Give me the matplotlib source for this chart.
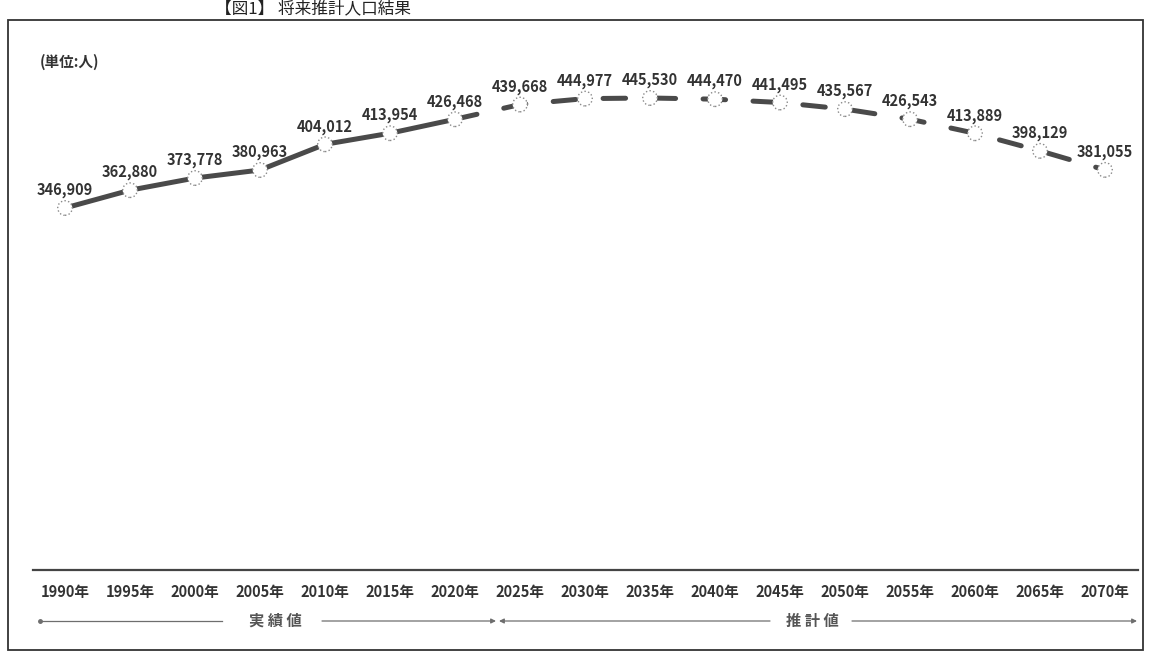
import matplotlib
matplotlib.use("Agg")
import matplotlib.pyplot as plt
from matplotlib.patches import Rectangle
from matplotlib.lines import Line2D

plt.rcParams['font.family'] = ['Noto Sans CJK JP', 'DejaVu Sans']

years = [1990, 1995, 2000, 2005, 2010, 2015, 2020, 2025, 2030, 2035,
         2040, 2045, 2050, 2055, 2060, 2065, 2070]
population = [346909, 362880, 373778, 380963, 404012, 413954, 426468,
              439668, 444977, 445530, 444470, 441495, 435567, 426543,
              413889, 398129, 381055]
tick_labels = [f"{y}年" for y in years]
last_actual = 6  # index of 2020 (last actual value)

W, H = 1151, 656
fig = plt.figure(figsize=(W / 100, H / 100), dpi=100)
fig.patch.set_facecolor('white')

def fx(px):
    return px / W

def fy(py):
    return 1 - py / H

ax = fig.add_axes([fx(32.5), fy(570), fx(1137.5) - fx(32.5), fy(30) - fy(570)])
x = list(range(len(years)))

line_col = '#4a4a4a'
ax.plot(x[:last_actual + 1], population[:last_actual + 1], color=line_col,
        lw=3.6, solid_capstyle='butt', zorder=2)
ln, = ax.plot(x[last_actual:], population[last_actual:], color=line_col,
              lw=3.6, dash_capstyle='round', zorder=2)
ln.set_dashes([4.5, 5.5])
ax.scatter(x, population, s=110, facecolors='white', edgecolors='#8a8a8a',
           linewidths=1.0, linestyles=':', zorder=3)

for xi, v in zip(x, population):
    ax.annotate(f"{v:,}", (xi, v), xytext=(0, 7), textcoords='offset points',
                ha='center', va='bottom', fontsize=10.5, fontweight='bold',
                color='#333333')

ax.set_xlim(-0.5, len(years) - 0.5)
ax.set_ylim(22340, 506500)
ax.set_xticks(x)
ax.set_xticklabels(tick_labels, fontsize=10.5, fontweight='bold', color='#333333')
ax.tick_params(axis='x', length=0, pad=10)
ax.set_yticks([])
for s in ['top', 'right', 'left']:
    ax.spines[s].set_visible(False)
ax.spines['bottom'].set_color('#444444')
ax.spines['bottom'].set_linewidth(1.6)
ax.set_facecolor('none')

# unit label
fig.text(fx(40), fy(62), '(単位:人)', fontsize=10.5, fontweight='bold',
         color='#333333', ha='left', va='center')

# outer frame
fig.add_artist(Rectangle((fx(8), fy(650)), fx(1143) - fx(8), fy(20) - fy(650),
                         transform=fig.transFigure, fill=False,
                         edgecolor='#333333', lw=1.3))

# title (at the top edge, above the frame)
fig.text(fx(215), fy(9), '【図1】 将来推計人口結果', fontsize=12,
         color='#222222', ha='left', va='center')

# actual / estimate arrows row
ry = fy(621)
arrow_col = '#6e6e6e'
fig.add_artist(Line2D([fx(40), fx(222)], [ry, ry], transform=fig.transFigure,
                      color=arrow_col, lw=0.9))
fig.text(fx(275), ry, '実 績 値', fontsize=11, fontweight='bold',
         color='#555555', ha='center', va='center')
fig.add_artist(Line2D([fx(40)], [ry], transform=fig.transFigure, marker='o',
                      markersize=2.5, color=arrow_col))
ax.annotate('', xy=(fx(496), ry), xytext=(fx(322), ry), xycoords='figure fraction',
            textcoords='figure fraction',
            arrowprops=dict(arrowstyle='-|>', color=arrow_col, lw=0.9,
                            mutation_scale=7, shrinkA=0, shrinkB=0))
ax.annotate('', xy=(fx(499), ry), xytext=(fx(770), ry), xycoords='figure fraction',
            textcoords='figure fraction',
            arrowprops=dict(arrowstyle='-|>', color=arrow_col, lw=0.9,
                            mutation_scale=7, shrinkA=0, shrinkB=0))
fig.text(fx(812), ry, '推 計 値', fontsize=11, fontweight='bold',
         color='#555555', ha='center', va='center')
ax.annotate('', xy=(fx(1137), ry), xytext=(fx(852), ry), xycoords='figure fraction',
            textcoords='figure fraction',
            arrowprops=dict(arrowstyle='-|>', color=arrow_col, lw=0.9,
                            mutation_scale=7, shrinkA=0, shrinkB=0))

fig.savefig('out.png', dpi=100, facecolor='white')
